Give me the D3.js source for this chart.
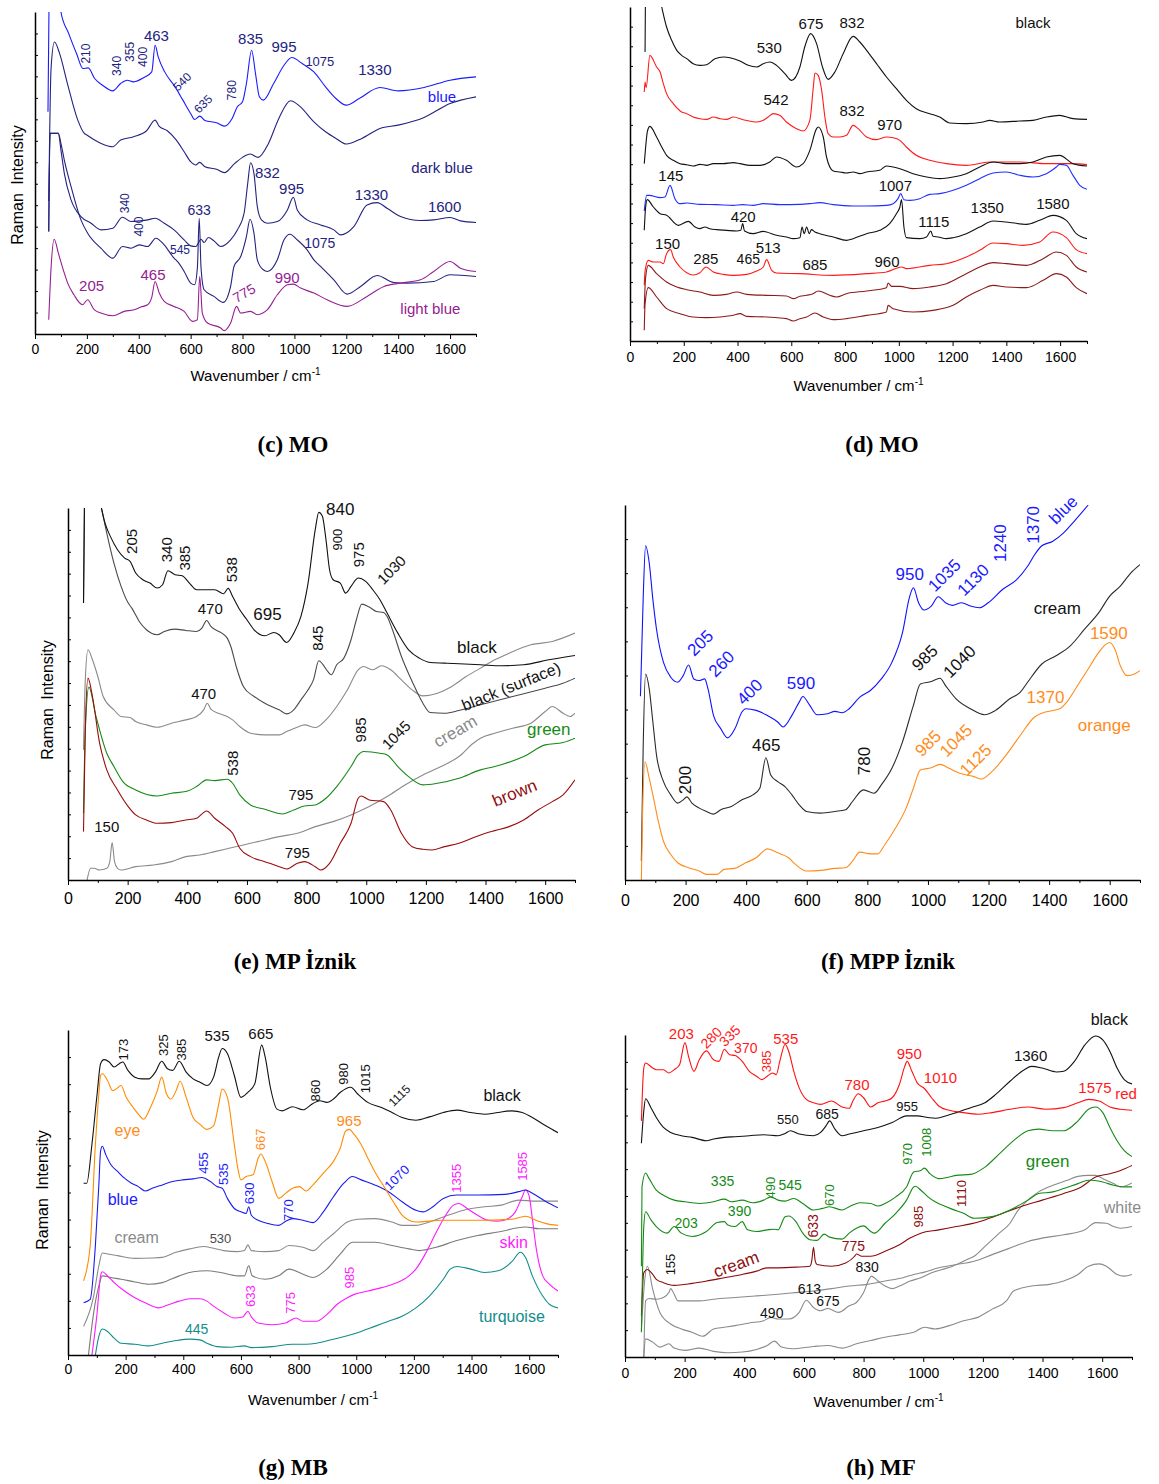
<!DOCTYPE html>
<html>
<head>
<meta charset="utf-8">
<title>Raman spectra panels</title>
<script src="https://d3js.org/d3.v7.min.js"></script>
<style>
  body { margin: 0; background: #fff; }
  svg text { font-family: "Liberation Sans", Arial, sans-serif; }
  .cap { font-family: "Liberation Serif", "DejaVu Serif", serif; font-weight: bold; font-size: 23px; }
</style>
</head>
<body>
<svg id="fig" width="1159" height="1484"></svg>
<script>
// ---- data: [wavenumber, intensity (arbitrary units)] ----
// (c) MO
const cBlue = [[50,668],[58,1300],[70,1400],[85,1080],[100,968],[130,903],[160,843],[185,798],[205,800],[230,768],[260,748],[300,731],[330,753],[355,763],[380,758],[420,771],[450,788],[463,868],[475,833],[500,788],[540,743],[570,703],[600,663],[615,645],[635,655],[655,642],[700,635],[730,625],[760,648],[780,683],[800,698],[815,753],[835,853],[850,783],[865,713],[880,703],[920,753],[960,808],[990,831],[1030,813],[1075,788],[1120,743],[1160,708],[1200,688],[1250,708],[1330,741],[1400,731],[1500,741],[1600,763],[1700,773]];
const cDarkBlue = [[53,400],[62,800],[75,878],[95,843],[125,753],[165,643],[190,603],[200,598],[230,583],[255,573],[300,563],[330,583],[380,593],[430,611],[463,643],[478,625],[510,611],[545,583],[575,548],[600,518],[620,508],[635,516],[655,503],[700,495],[730,485],[770,513],[800,531],[830,541],[860,531],[900,573],[940,648],[985,701],[1020,685],[1075,638],[1120,608],[1160,588],[1200,571],[1260,588],[1330,618],[1400,628],[1500,651],[1600,693],[1700,713]];
const cNavyA = [[53,308],[58,603],[90,603],[100,553],[113,483],[139,403],[177,353],[216,333],[254,313],[300,318],[337,351],[370,338],[402,340],[434,343],[463,348],[498,333],[536,313],[575,283],[600,265],[620,263],[640,285],[652,275],[668,290],[690,280],[716,263],[754,283],[780,313],[806,363],[820,453],[831,515],[844,483],[857,383],[873,343],[896,333],[934,338],[973,373],[996,411],[1011,373],[1049,343],[1101,328],[1152,313],[1178,298],[1229,323],[1280,388],[1319,395],[1357,378],[1409,353],[1486,341],[1537,343],[1600,350],[1640,340],[1700,335]];
const cNavyB = [[53,308],[58,603],[90,603],[100,573],[113,523],[139,443],[177,343],[203,303],[254,258],[300,228],[337,263],[370,258],[402,268],[434,263],[466,288],[498,268],[536,228],[549,218],[575,188],[600,153],[615,148],[626,200],[633,348],[640,200],[652,133],[690,113],[726,95],[754,143],[767,203],[793,233],[815,293],[829,345],[844,303],[857,223],[880,193],[896,188],[934,223],[960,283],[983,300],[1011,283],[1049,253],[1075,223],[1101,203],[1152,163],[1203,120],[1255,143],[1319,176],[1383,155],[1434,153],[1537,158],[1600,178],[1700,173]];
const cLightBlue = [[53,43],[62,200],[74,285],[90,243],[113,183],[126,153],[150,118],[183,88],[203,103],[228,73],[254,63],[300,55],[344,68],[382,73],[408,81],[434,88],[450,110],[463,158],[479,123],[498,98],[536,83],[575,68],[607,38],[626,43],[635,173],[645,63],[665,33],[716,18],[729,10],[754,33],[777,83],[793,63],[831,68],[857,58],[896,73],[934,118],[973,148],[996,150],[1024,138],[1075,123],[1126,103],[1203,83],[1280,113],[1345,143],[1409,153],[1486,163],[1537,188],[1600,218],[1640,198],[1700,188]];

// (d) MO
const dBlackA = [[56,867],[58,1100],[80,1150],[118,1002],[136,942],[155,902],[174,872],[192,857],[211,847],[235,832],[260,827],[285,829],[316,847],[347,852],[372,850],[409,840],[440,827],[471,822],[496,832],[520,837],[545,827],[576,802],[601,782],[632,822],[650,882],[672,922],[694,892],[716,822],[737,785],[762,807],[793,862],[830,914],[855,897],[880,872],[917,832],[954,792],[991,757],[1028,722],[1065,697],[1115,682],[1152,672],[1190,654],[1251,652],[1313,657],[1338,662],[1375,657],[1450,660],[1499,662],[1549,672],[1598,677],[1648,667],[1700,665]];
const dRedA = [[53,747],[56,777],[60,760],[74,857],[99,822],[112,807],[124,772],[136,742],[161,712],[192,687],[211,682],[235,672],[260,667],[285,665],[310,672],[335,667],[359,665],[384,672],[421,664],[471,657],[496,662],[514,672],[533,682],[557,677],[582,657],[619,637],[644,630],[669,662],[682,762],[688,804],[700,797],[713,752],[725,672],[737,622],[756,612],[781,612],[805,617],[830,647],[849,637],[880,612],[917,604],[954,612],[979,610],[1004,602],[1028,582],[1065,557],[1115,542],[1177,532],[1251,527],[1338,537],[1450,537],[1549,532],[1598,532],[1648,532],[1700,529]];
const dBlackB = [[53,532],[58,580],[65,630],[74,644],[99,612],[118,582],[136,557],[161,542],[186,532],[211,529],[235,525],[260,530],[285,527],[310,532],[347,532],[384,535],[409,532],[446,527],[483,527],[520,537],[545,552],[582,542],[619,522],[644,532],[669,572],[694,637],[700,642],[719,612],[731,552],[756,510],[781,507],[805,504],[830,507],[855,502],[880,507],[929,512],[954,525],[979,522],[1004,517],[1053,502],[1103,492],[1152,487],[1202,492],[1251,502],[1301,522],[1351,537],[1400,532],[1450,532],[1499,537],[1549,552],[1598,557],[1648,532],[1700,525]];
const dBlue = [[53,390],[62,437],[72,437],[112,430],[130,432],[149,467],[167,427],[186,412],[211,414],[260,410],[322,409],[384,407],[419,409],[458,407],[496,412],[558,409],[632,410],[669,412],[706,415],[756,409],[830,405],[880,405],[954,407],[979,412],[997,427],[1007,442],[1019,424],[1041,422],[1078,427],[1115,440],[1152,442],[1202,452],[1251,467],[1301,487],[1351,504],[1400,507],[1450,497],[1499,492],[1549,502],[1586,522],[1598,530],[1623,527],[1648,497],[1673,467],[1700,455]];
const dBlackC = [[53,332],[58,400],[64,424],[87,402],[112,382],[136,377],[180,347],[217,359],[242,342],[260,337],[279,342],[297,337],[322,334],[359,332],[397,330],[412,332],[419,352],[426,330],[458,322],[496,329],[508,327],[545,317],[582,312],[607,307],[632,310],[640,342],[648,322],[657,342],[667,322],[675,334],[688,327],[706,322],[756,312],[805,302],[830,307],[880,322],[929,332],[966,352],[991,382],[1004,402],[1010,424],[1019,342],[1028,310],[1078,307],[1103,312],[1119,330],[1127,314],[1146,312],[1177,307],[1202,310],[1251,322],[1301,342],[1351,360],[1400,357],[1475,350],[1524,362],[1573,377],[1623,362],[1660,322],[1700,307]];
const dRedB = [[53,167],[56,210],[68,242],[87,237],[112,237],[124,232],[136,262],[151,274],[161,252],[186,222],[211,205],[235,198],[260,205],[283,222],[310,207],[347,200],[384,197],[434,200],[471,210],[496,222],[508,244],[527,212],[545,204],[632,202],[756,197],[880,202],[954,207],[1010,222],[1028,217],[1115,227],[1177,232],[1251,252],[1301,272],[1351,294],[1400,292],[1462,287],[1524,297],[1573,327],[1623,310],[1660,274],[1700,262]];
const dBrownA = [[53,97],[58,190],[68,227],[99,202],[136,177],[174,162],[211,154],[260,147],[310,137],[359,140],[397,147],[434,140],[508,137],[582,135],[607,127],[632,134],[657,137],[681,142],[700,150],[743,137],[768,132],[805,142],[880,150],[954,160],[960,174],[973,164],[1004,164],[1053,157],[1115,162],[1177,172],[1251,202],[1301,222],[1351,235],[1400,232],[1475,227],[1537,247],[1586,267],[1623,257],[1660,222],[1700,207]];
const dBrownB = [[53,32],[56,110],[68,160],[99,132],[136,97],[186,82],[235,72],[285,70],[335,72],[384,77],[409,82],[434,74],[508,72],[582,67],[607,60],[632,67],[657,72],[688,84],[719,72],[756,64],[805,67],[880,77],[954,87],[960,107],[979,97],[1053,87],[1127,92],[1202,107],[1251,132],[1301,152],[1351,167],[1400,162],[1475,160],[1537,182],[1586,202],[1623,192],[1660,160],[1700,142]];

// (e) MP Iznik
const eBlack = [[52,830],[56,1200],[80,1250],[112,1115],[124,1070],[142,1030],[166,990],[190,965],[208,955],[227,920],[251,900],[275,890],[299,875],[317,885],[335,927],[359,915],[383,912],[407,890],[431,870],[455,870],[492,870],[522,858],[537,874],[552,850],[576,810],[600,780],[624,750],[660,732],[690,742],[708,735],[733,712],[757,740],[781,790],[805,890],[829,1050],[841,1102],[853,1090],[865,1020],[877,930],[889,900],[913,890],[931,860],[949,880],[967,902],[973,905],[998,895],[1022,870],[1046,840],[1070,800],[1106,740],[1142,690],[1178,665],[1214,652],[1263,650],[1311,648],[1383,645],[1455,642],[1528,645],[1612,660],[1700,673]];
const eSurface = [[52,830],[56,1200],[80,1250],[112,1115],[130,1040],[154,950],[178,880],[202,830],[214,815],[239,775],[263,750],[299,735],[323,745],[359,752],[395,748],[431,745],[449,755],[465,778],[479,760],[516,740],[534,725],[546,700],[564,640],[588,580],[624,550],[660,530],[708,510],[733,498],[757,510],[781,540],[805,570],[823,600],[841,657],[853,648],[871,625],[883,615],[901,645],[925,665],[949,720],[967,780],[985,827],[1010,818],[1034,805],[1058,802],[1070,790],[1088,750],[1118,670],[1154,595],[1190,530],[1214,502],[1263,500],[1311,508],[1383,525],[1455,542],[1528,558],[1600,575],[1660,590],[1700,605]];
const eCream = [[52,390],[58,600],[67,690],[82,660],[100,610],[118,550],[154,510],[178,490],[208,487],[227,475],[263,465],[299,458],[347,470],[395,480],[431,490],[455,510],[467,530],[479,512],[504,500],[528,492],[552,480],[576,460],[612,440],[660,435],[708,435],[733,445],[769,458],[793,465],[829,457],[865,480],[901,520],[937,570],[973,630],[991,640],[1022,630],[1051,642],[1082,630],[1118,600],[1154,570],[1190,552],[1239,560],[1287,580],[1335,610],[1383,635],[1431,660],[1479,680],[1552,705],[1624,715],[1700,740]];
const eGreen = [[52,200],[58,450],[70,578],[94,490],[130,380],[154,340],[184,295],[227,270],[299,252],[347,260],[395,265],[431,280],[465,300],[492,298],[534,302],[552,290],[576,255],[612,225],[660,212],[720,198],[757,210],[793,222],[829,225],[865,245],[901,280],[949,340],[973,375],[991,385],[1046,380],[1070,375],[1106,340],[1142,310],[1190,285],[1239,290],[1311,305],[1383,330],[1431,340],[1528,370],[1600,405],[1660,412],[1700,425]];
const eBrown = [[52,145],[58,450],[67,605],[82,550],[106,410],[130,330],[166,270],[202,220],[227,195],[263,180],[299,170],[347,172],[395,180],[431,185],[465,207],[492,185],[528,160],[552,140],[576,95],[612,70],[660,55],[708,40],[733,33],[769,50],[793,55],[829,40],[847,30],[877,50],[913,110],[949,170],[973,245],[983,252],[1010,240],[1058,235],[1082,210],[1118,140],[1154,100],[1190,92],[1220,90],[1263,100],[1311,110],[1383,135],[1431,148],[1479,160],[1528,180],[1576,210],[1624,235],[1660,255],[1700,300]];
const eGray = [[64,0],[76,35],[88,35],[106,30],[130,35],[140,55],[148,112],[156,55],[166,35],[178,30],[227,40],[287,45],[347,55],[395,70],[443,75],[492,85],[540,95],[588,105],[636,115],[708,130],[769,140],[829,160],[889,175],[949,195],[1010,220],[1070,250],[1130,285],[1190,315],[1251,340],[1311,370],[1359,410],[1383,425],[1431,440],[1491,455],[1552,470],[1600,505],[1624,520],[1660,500],[1684,490],[1700,500]];

// (f) MPP Iznik
const fBlue = [[51,555],[60,850],[68,1009],[80,957],[92,847],[104,757],[127,657],[151,612],[174,597],[192,617],[210,649],[227,607],[245,602],[263,607],[274,577],[292,497],[316,457],[339,429],[363,457],[386,507],[398,517],[433,512],[469,497],[504,477],[522,462],[551,497],[575,537],[587,554],[610,527],[634,499],[669,502],[693,509],[716,505],[740,517],[775,552],[810,572],[846,607],[881,657],[916,747],[940,857],[952,882],[969,837],[987,815],[1011,827],[1034,855],[1058,837],[1081,829],[1111,837],[1140,827],[1170,822],[1199,837],[1246,877],[1293,907],[1329,947],[1352,982],[1376,1009],[1411,1022],[1447,1047],[1482,1082],[1529,1132]];
const fCream = [[54,57],[60,400],[68,622],[80,577],[92,477],[104,377],[127,297],[151,257],[174,232],[192,242],[204,251],[221,232],[245,217],[269,207],[292,199],[316,212],[351,222],[386,242],[422,257],[445,277],[465,369],[481,317],[504,297],[528,282],[551,257],[575,227],[599,207],[646,202],[693,207],[728,212],[751,237],[787,272],[822,262],[846,287],[881,337],[916,417],[952,527],[975,592],[1011,599],[1040,609],[1058,587],[1093,547],[1140,517],[1187,499],[1223,512],[1270,547],[1305,567],[1329,597],[1376,652],[1423,677],[1470,707],[1517,757],[1564,807],[1600,857],[1635,887],[1670,927],[1700,952]];
const fOrange = [[54,0],[58,200],[66,357],[80,307],[92,257],[110,177],[127,117],[151,77],[174,52],[210,37],[245,27],[269,17],[304,17],[327,32],[363,35],[398,52],[433,67],[457,87],[469,94],[504,82],[540,67],[563,47],[599,27],[646,29],[693,35],[728,37],[751,57],[775,84],[810,79],[834,79],[858,107],[893,157],[928,217],[952,277],[975,332],[1011,339],[1040,349],[1070,337],[1093,327],[1117,319],[1152,312],[1176,305],[1211,327],[1258,377],[1305,437],[1352,492],[1388,507],[1435,517],[1458,537],[1494,587],[1529,637],[1564,687],[1588,712],[1600,717],[1617,697],[1635,647],[1658,617],[1682,622],[1700,632]];

// (g) MB
const gBlack = [[54,510],[65,510],[83,625],[101,775],[113,865],[125,877],[143,870],[160,855],[178,865],[190,870],[208,845],[232,825],[256,820],[280,820],[303,840],[325,872],[345,850],[363,845],[386,872],[410,840],[434,820],[458,810],[482,800],[505,825],[523,885],[535,910],[553,895],[577,830],[600,765],[624,780],[648,805],[672,920],[684,885],[702,795],[725,730],[743,725],[779,737],[815,728],[850,747],[874,755],[898,750],[921,760],[945,780],[981,795],[1005,775],[1040,750],[1088,735],[1124,720],[1159,705],[1207,697],[1254,707],[1302,720],[1349,727],[1397,720],[1445,715],[1492,720],[1540,725],[1576,720],[1611,705],[1659,680],[1700,660]];
const gEye = [[54,220],[77,325],[95,625],[107,775],[113,830],[119,835],[137,815],[155,785],[172,793],[184,800],[202,765],[226,735],[244,715],[262,700],[286,735],[310,785],[325,825],[342,775],[357,760],[375,785],[389,813],[410,765],[434,705],[458,685],[482,670],[505,680],[523,745],[535,790],[553,765],[577,625],[589,555],[600,520],[618,530],[642,535],[660,585],[669,597],[684,575],[708,515],[731,465],[755,480],[779,495],[803,500],[826,487],[850,505],[886,540],[921,575],[945,615],[963,665],[975,670],[993,655],[1017,625],[1040,585],[1064,545],[1100,495],[1136,445],[1159,415],[1183,400],[1207,395],[1302,400],[1421,400],[1540,403],[1587,412],[1623,400],[1659,390],[1700,385]];
const gBlue = [[54,155],[77,165],[95,325],[107,505],[113,605],[119,620],[131,595],[149,565],[172,545],[196,525],[220,510],[244,500],[268,487],[292,495],[327,505],[363,515],[398,520],[434,523],[464,527],[494,515],[517,500],[535,495],[553,465],[577,435],[600,425],[618,420],[627,440],[636,415],[660,400],[696,390],[731,385],[755,397],[779,405],[815,400],[850,393],[886,425],[921,470],[957,510],[987,530],[1017,520],[1064,505],[1112,485],[1159,455],[1207,430],[1231,425],[1266,440],[1302,465],[1349,475],[1421,475],[1516,477],[1564,485],[1587,490],[1611,480],[1659,455],[1700,437]];
const gCreamA = [[54,85],[89,175],[107,265],[119,303],[137,300],[172,295],[232,287],[292,288],[327,290],[375,305],[422,315],[470,322],[505,317],[540,310],[588,307],[612,310],[624,327],[636,310],[684,307],[731,310],[767,325],[815,320],[850,310],[886,335],[921,360],[969,395],[1005,403],[1064,405],[1124,395],[1159,385],[1207,385],[1254,395],[1302,410],[1373,430],[1445,440],[1504,445],[1564,460],[1623,457],[1700,457]];
const gCreamB = [[71,0],[89,125],[107,205],[119,235],[149,230],[184,225],[232,217],[280,210],[327,215],[386,235],[434,247],[482,250],[529,245],[589,235],[612,235],[627,265],[639,235],[684,225],[731,235],[767,255],[815,240],[850,230],[898,255],[945,300],[987,335],[1040,335],[1064,335],[1124,325],[1183,315],[1219,310],[1278,320],[1349,340],[1421,355],[1492,365],[1587,380],[1635,375],[1700,375]];
const gSkin = [[83,0],[101,125],[113,235],[119,247],[137,235],[160,215],[196,190],[232,170],[268,155],[315,140],[351,150],[386,160],[422,167],[458,167],[482,160],[505,145],[541,125],[577,110],[606,113],[624,130],[636,113],[660,95],[708,90],[755,95],[791,110],[815,100],[862,100],[898,120],[933,150],[969,170],[993,180],[1040,190],[1088,200],[1136,213],[1183,235],[1207,255],[1243,305],[1278,365],[1314,420],[1337,445],[1355,450],[1385,435],[1421,415],[1457,400],[1492,397],[1528,405],[1552,425],[1576,470],[1587,490],[1599,475],[1611,405],[1623,325],[1647,235],[1671,210],[1700,190]];
const gTurquoise = [[95,0],[107,55],[119,77],[137,70],[160,50],[184,35],[232,32],[280,27],[327,35],[375,43],[422,47],[458,45],[482,35],[517,25],[565,23],[612,27],[636,22],[708,25],[779,32],[826,32],[862,35],[921,47],[969,57],[1017,70],[1064,85],[1112,100],[1159,115],[1207,140],[1254,175],[1302,225],[1326,255],[1349,263],[1397,255],[1445,245],[1492,250],[1540,277],[1570,305],[1587,290],[1611,235],[1647,175],[1671,150],[1700,140]];

// (h) MF
const hRed = [[55,715],[63,875],[69,890],[93,875],[105,870],[129,870],[147,860],[165,870],[183,885],[201,952],[213,910],[231,865],[249,900],[273,927],[297,900],[315,895],[333,932],[351,915],[369,913],[393,895],[417,865],[441,850],[459,840],[477,850],[495,860],[507,855],[519,895],[537,947],[549,925],[566,865],[584,815],[608,780],[632,770],[656,765],[692,775],[728,757],[752,753],[764,775],[782,797],[800,785],[824,757],[848,770],[872,775],[896,785],[920,825],[938,880],[946,895],[962,865],[980,830],[1004,813],[1028,785],[1052,760],[1087,747],[1135,740],[1183,735],[1231,740],[1291,750],[1351,757],[1411,750],[1471,755],[1519,770],[1555,780],[1590,775],[1626,757],[1662,750],[1700,747]];
const hBlack = [[55,647],[63,745],[69,782],[87,755],[105,725],[129,695],[153,680],[189,670],[225,665],[273,655],[297,660],[333,665],[369,667],[417,670],[465,673],[513,670],[537,677],[555,685],[584,675],[632,670],[656,680],[674,700],[686,715],[704,690],[728,670],[752,675],[800,685],[848,695],[896,710],[944,730],[980,730],[1016,725],[1040,723],[1075,730],[1111,740],[1159,755],[1207,770],[1243,795],[1291,835],[1339,870],[1363,880],[1399,875],[1447,863],[1471,865],[1507,895],[1542,945],[1578,972],[1602,960],[1626,925],[1650,875],[1674,840],[1700,827]];
const hGreenA = [[55,275],[57,515],[69,557],[81,540],[105,505],[129,490],[165,475],[201,470],[249,465],[297,470],[333,478],[357,470],[393,475],[429,467],[465,475],[489,485],[513,475],[537,472],[566,480],[596,465],[632,445],[662,450],[686,455],[728,445],[752,455],[788,467],[824,465],[848,457],[872,465],[908,485],[944,515],[968,560],[992,565],[1004,572],[1022,555],[1052,540],[1087,545],[1111,550],[1159,553],[1207,575],[1255,615],[1303,655],[1351,685],[1387,690],[1435,685],[1471,685],[1519,715],[1554,750],[1578,757],[1602,740],[1626,695],[1650,655],[1674,625],[1700,607]];
const hGreenB = [[55,75],[63,395],[69,440],[87,415],[105,395],[141,375],[165,395],[189,375],[225,365],[273,380],[309,407],[333,410],[345,400],[369,395],[393,410],[411,385],[441,380],[477,385],[501,387],[513,385],[537,425],[549,427],[573,410],[596,375],[620,355],[644,353],[668,372],[686,363],[728,357],[752,375],[776,390],[800,397],[824,380],[836,375],[872,405],[908,435],[944,475],[968,515],[974,517],[992,505],[1016,485],[1040,470],[1063,460],[1099,447],[1135,435],[1171,420],[1231,425],[1291,445],[1351,475],[1387,495],[1435,500],[1471,510],[1519,525],[1554,535],[1566,535],[1602,530],[1638,520],[1674,515],[1700,515]];
const hCream = [[55,125],[63,255],[75,265],[93,250],[105,235],[129,225],[165,217],[225,223],[273,230],[333,240],[393,250],[441,260],[477,270],[513,270],[573,272],[620,275],[626,290],[632,332],[638,290],[644,280],[692,275],[740,285],[770,305],[776,312],[794,305],[824,305],[872,320],[920,340],[956,360],[992,375],[1052,385],[1111,395],[1159,403],[1207,415],[1267,435],[1327,455],[1399,475],[1471,495],[1530,515],[1578,545],[1626,555],[1662,565],[1700,580]];
const hWhiteA = [[63,0],[69,170],[81,177],[105,175],[129,180],[147,195],[153,207],[165,190],[177,170],[201,170],[249,170],[297,175],[369,180],[441,185],[513,190],[573,195],[632,200],[692,207],[752,215],[812,220],[872,230],[932,240],[968,250],[1004,257],[1052,270],[1111,280],[1171,290],[1231,310],[1291,330],[1351,350],[1399,360],[1471,370],[1542,385],[1578,407],[1614,405],[1638,395],[1662,390],[1700,395]];
const hWhiteB = [[55,80],[63,200],[75,275],[93,205],[117,135],[153,100],[189,85],[225,75],[261,63],[297,85],[333,90],[369,95],[417,103],[465,110],[489,120],[513,115],[549,115],[584,135],[608,172],[632,150],[656,140],[680,147],[716,135],[752,155],[776,165],[800,195],[818,235],[826,245],[848,230],[872,215],[896,207],[920,215],[956,230],[992,240],[1028,255],[1063,265],[1099,275],[1147,295],[1171,305],[1207,335],[1255,375],[1291,405],[1315,440],[1351,475],[1387,500],[1435,520],[1483,535],[1519,547],[1554,550],[1578,550],[1602,540],[1638,525],[1662,515],[1700,527]];
const hWhiteC = [[63,0],[69,55],[93,45],[117,30],[147,40],[165,27],[201,20],[249,27],[297,17],[345,13],[393,15],[441,23],[477,35],[501,48],[525,30],[561,25],[632,32],[680,35],[728,27],[776,40],[824,50],[872,60],[920,67],[968,75],[1004,90],[1040,85],[1087,95],[1135,110],[1183,120],[1231,145],[1279,170],[1303,200],[1363,215],[1423,220],[1471,230],[1519,250],[1554,275],[1590,282],[1614,275],[1650,250],[1674,245],[1700,250]];

// ---- annotations: [text, wavenumber, intensity, angle, colour, size] ----
const NAVY = '#23237f', BLUE = '#1a1aff', PURPLE = '#942093', RED = '#ff1a1a', DRED = '#8e1010',
      GREEN = '#168a16', GRAY = '#8a8a8a', DGRAY = '#4a4a4a', ORANGE = '#ff8c1a', MAGENTA = '#ff1aff',
      TEAL = '#128c8c', BLK = '#111';

const cNotes = [["210",196,843,-90,NAVY,12],["340",316,806,-90,NAVY,12],["355",367,848,-90,NAVY,12],["400",418,833,-90,NAVY,12],
  ["463",468,898,0,NAVY,15],["540",568,758,-45,NAVY,12],["635",649,691,-45,NAVY,12],["780",761,733,-90,NAVY,12],
  ["835",831,888,0,NAVY,15],["995",960,863,0,NAVY,15],["1075",1098,820,0,NAVY,13],["1330",1310,795,0,NAVY,15],
  ["blue",1569,713,0,BLUE,15],["dark blue",1569,501,0,NAVY,15],["832",896,485,0,NAVY,15],["995",989,437,0,NAVY,15],
  ["1330",1297,420,0,NAVY,15],["1600",1579,383,0,NAVY,15],["340",348,393,-90,NAVY,12],["400",399,323,-90,NAVY,12],
  ["633",633,373,0,NAVY,14],["545",559,253,0,NAVY,12],["1075",1098,273,0,NAVY,14],["205",218,146,0,PURPLE,15],
  ["465",455,179,0,PURPLE,15],["775",806,123,-30,PURPLE,14],["990",972,171,0,PURPLE,15],["light blue",1524,78,0,PURPLE,15]];
const dNotes = [["black",1499,957,0,BLK,15],["530",518,882,0,BLK,15],["675",673,954,0,BLK,15],["832",826,957,0,BLK,15],
  ["542",543,724,0,BLK,15],["832",826,692,0,BLK,15],["970",966,650,0,BLK,15],["145",152,497,0,BLK,15],
  ["1007",987,467,0,BLK,15],["420",421,374,0,BLK,15],["1115",1130,360,0,BLK,15],["1350",1329,400,0,BLK,15],
  ["1580",1573,414,0,BLK,15],["150",140,294,0,BLK,15],["285",282,247,0,BLK,15],["465",440,247,0,BLK,14],
  ["513",514,282,0,BLK,15],["685",688,230,0,BLK,15],["960",956,240,0,BLK,15]];
const eNotes = [["205",214,1015,-90,BLK,15],["340",329,990,-90,BLK,15],["385",391,965,-90,BLK,15],["538",549,930,-90,BLK,15],
  ["840",913,1110,0,BLK,17],["900",904,1020,-90,BLK,13],["975",973,975,-90,BLK,15],["1030",1084,930,-45,BLK,15],
  ["470",477,815,0,BLK,15],["695",669,795,0,BLK,17],["845",837,725,-90,BLK,15],["black",1371,698,0,BLK,17],
  ["black (surface)",1486,580,-22,BLK,16],["470",455,560,0,BLK,15],["cream",1299,445,-30,GRAY,17],["green",1612,452,0,GREEN,17],
  ["985",980,450,-90,BLK,15],["1045",1100,435,-45,BLK,15],["538",552,350,-90,BLK,15],["795",781,255,0,BLK,15],
  ["brown",1498,260,-22,DRED,17],["795",769,82,0,BLK,15],["150",130,160,0,BLK,15]];
const fNotes = [["205",249,715,-45,BLUE,17],["260",319,652,-45,BLUE,17],["400",412,567,-45,BLUE,17],["590",581,592,0,BLUE,17],
  ["950",940,922,0,BLUE,17],["1035",1055,919,-45,BLUE,17],["1130",1150,905,-45,BLUE,17],["1240",1238,1017,-90,BLUE,17],
  ["1370",1350,1072,-90,BLUE,17],["blue",1447,1117,-45,BLUE,17],["cream",1427,819,0,BLK,17],["985",990,670,-45,BLK,17],
  ["1040",1105,659,-45,BLK,17],["200",201,302,-90,BLK,17],["465",466,405,0,BLK,17],["780",790,359,-90,BLK,17],
  ["1590",1597,745,0,ORANGE,17],["1370",1388,550,0,ORANGE,17],["orange",1582,467,0,ORANGE,17],["985",1001,412,-45,ORANGE,17],
  ["1045",1093,420,-45,ORANGE,17],["1125",1158,362,-45,ORANGE,17]];
const gNotes = [["173",194,907,-90,BLK,13],["325",331,920,-90,BLK,13],["385",395,907,-90,BLK,13],["535",517,950,0,BLK,15],
  ["665",669,955,0,BLK,15],["860",860,785,-90,BLK,13],["980",957,835,-90,BLK,13],["1015",1032,820,-90,BLK,13],
  ["1115",1150,770,-45,BLK,12],["black",1506,770,0,BLK,16],["eye",206,668,0,ORANGE,16],["965",975,695,0,ORANGE,15],
  ["667",669,640,-90,ORANGE,13],["455",470,570,-90,BLUE,13],["535",541,537,-90,BLUE,13],["630",630,480,-90,BLUE,13],
  ["770",765,430,-90,BLUE,13],["1070",1141,527,-45,BLUE,13],["blue",190,462,0,BLUE,16],["1355",1349,525,-90,MAGENTA,13],
  ["1585",1578,560,-90,MAGENTA,13],["cream",238,350,0,GRAY,16],["530",529,345,0,DGRAY,13],["skin",1546,335,0,MAGENTA,16],
  ["985",975,230,-90,MAGENTA,13],["633",634,175,-90,MAGENTA,13],["775",773,155,-90,MAGENTA,13],
  ["turquoise",1540,115,0,TEAL,16],["445",446,77,0,TEAL,14]];
const hNotes = [["black",1624,1023,0,BLK,16],["1360",1360,913,0,BLK,15],["550",546,718,0,BLK,13],["685",678,735,0,BLK,14],
  ["955",946,760,0,BLK,13],["203",189,980,0,RED,15],["280",289,967,-45,RED,14],["335",351,973,-45,RED,14],
  ["370",405,937,0,RED,14],["385",474,895,-90,RED,13],["535",539,965,0,RED,15],["780",778,825,0,RED,15],
  ["950",953,920,0,RED,15],["1010",1058,845,0,RED,15],["1575",1576,815,0,RED,15],["red",1680,797,0,RED,15],
  ["335",327,532,0,GREEN,14],["490",489,513,-90,GREEN,13],["545",554,520,0,GREEN,14],["670",686,490,-90,GREEN,13],
  ["970",947,615,-90,GREEN,13],["1008",1012,650,-90,GREEN,13],["green",1417,592,0,GREEN,17],["203",205,407,0,GREEN,14],
  ["390",384,443,0,GREEN,14],["633",630,397,-90,DRED,14],["985",983,425,-90,DRED,13],["1110",1129,495,-90,DRED,13],
  ["white",1668,452,0,GRAY,16],["775",766,335,0,DRED,14],["cream",373,280,-20,DRED,17],["155",151,280,-90,BLK,13],
  ["830",812,273,0,BLK,14],["613",618,207,0,BLK,14],["675",680,170,0,BLK,14],["490",492,132,0,BLK,14]];

const majorTicks = [0, 200, 400, 600, 800, 1000, 1200, 1400, 1600];
const minorTicks = [100, 300, 500, 700, 900, 1100, 1300, 1500, 1700];

// ---- drawing ----
const svg = d3.select('#fig');
svg.append('rect').attr('width', 1159).attr('height', 1484).attr('fill', '#fff');

function drawPanel(p, series, notes) {
  const x = d3.scaleLinear().domain([0, 1700]).range([p.left, p.right]);
  const y = d3.scaleLinear().domain([0, p.ymax]).range([p.bottom, p.top]);
  const g = svg.append('g');

  g.append('clipPath').attr('id', 'clip-' + p.id)
    .append('rect')
    .attr('x', p.left).attr('y', p.top)
    .attr('width', p.right - p.left).attr('height', p.bottom - p.top);

  const line = d3.line()
    .x(d => x(d[0]))
    .y(d => y(d[1]))
    .curve(d3.curveMonotoneX);

  const lines = g.append('g').attr('clip-path', 'url(#clip-' + p.id + ')');
  series.forEach(s => {
    lines.append('path')
      .datum(s.data)
      .attr('d', line)
      .attr('fill', 'none')
      .attr('stroke', s.color)
      .attr('stroke-width', 1.1);
  });

  // x axis
  const ax = g.append('g')
    .attr('transform', 'translate(0,' + p.bottom + ')')
    .call(d3.axisBottom(x).tickValues(majorTicks).tickFormat(d3.format('d'))
      .tickSize(5).tickSizeOuter(0).tickPadding(p.pad));
  ax.select('.domain').attr('stroke', '#000').attr('stroke-width', 1.5);
  ax.selectAll('.tick line').attr('stroke', '#000');
  ax.selectAll('text').attr('font-size', p.tick).attr('font-family', '"Liberation Sans", Arial, sans-serif').attr('fill', '#000');
  const mx = g.append('g')
    .attr('transform', 'translate(0,' + p.bottom + ')')
    .call(d3.axisBottom(x).tickValues(minorTicks).tickSize(3).tickFormat(''));
  mx.select('.domain').remove();

  // y axis (no labels, small inside ticks)
  const yt = d3.range(1, p.yticks).map(i => i * p.ymax / p.yticks);
  const ay = g.append('g')
    .attr('transform', 'translate(' + p.left + ',0)')
    .call(d3.axisRight(y).tickValues(yt).tickSize(3).tickSizeOuter(0).tickFormat(''));
  ay.select('.domain').attr('stroke', '#000').attr('stroke-width', 1.5);

  if (p.xTitle) {
    const t = g.append('text')
      .attr('x', (p.left + p.right) / 2).attr('y', p.xTitle)
      .attr('text-anchor', 'middle').attr('font-size', 15);
    t.append('tspan').text('Wavenumber / cm');
    t.append('tspan').attr('dy', -6).attr('font-size', 10).text('-1');
  }
  if (p.yTitle) {
    g.append('text')
      .attr('transform', 'translate(' + p.yTitle[0] + ',' + p.yTitle[1] + ') rotate(-90)')
      .attr('text-anchor', 'middle').attr('dominant-baseline', 'central')
      .attr('font-size', 16).attr('word-spacing', 4)
      .text('Raman Intensity');
  }

  notes.forEach(n => {
    g.append('text')
      .attr('transform', 'translate(' + x(n[1]) + ',' + y(n[2]) + ') rotate(' + n[3] + ')')
      .attr('text-anchor', 'middle')
      .attr('dominant-baseline', 'central')
      .attr('font-size', n[5])
      .attr('fill', n[4])
      .text(n[0]);
  });

  svg.append('text').attr('class', 'cap')
    .attr('x', p.capX).attr('y', p.capY)
    .attr('text-anchor', 'middle')
    .text(p.caption);
}

drawPanel({id: 'c', left: 35, right: 476, bottom: 334, top: 12, ymax: 968, yticks: 15, pad: 5, tick: 14,
    xTitle: 381, yTitle: [17, 185], caption: '(c) MO', capX: 293, capY: 452},
  [{data: cBlue, color: BLUE}, {data: cDarkBlue, color: NAVY}, {data: cNavyA, color: NAVY},
   {data: cNavyB, color: NAVY}, {data: cLightBlue, color: PURPLE}], cNotes);

drawPanel({id: 'd', left: 630, right: 1087, bottom: 341, top: 7, ymax: 1002, yticks: 17, pad: 6, tick: 14,
    xTitle: 391, caption: '(d) MO', capX: 882, capY: 452},
  [{data: dBlackA, color: BLK}, {data: dRedA, color: RED}, {data: dBlackB, color: BLK}, {data: dBlue, color: '#1f2fff'},
   {data: dBlackC, color: BLK}, {data: dRedB, color: RED}, {data: dBrownA, color: '#8b1a1a'}, {data: dBrownB, color: '#8b1a1a'}], dNotes);

drawPanel({id: 'e', left: 68, right: 575, bottom: 880, top: 508, ymax: 1115, yticks: 17, pad: 8, tick: 16,
    yTitle: [47, 700], caption: '(e) MP İznik', capX: 295, capY: 969},
  [{data: eGray, color: GRAY}, {data: eCream, color: GRAY}, {data: eSurface, color: DGRAY},
   {data: eBlack, color: BLK}, {data: eGreen, color: GREEN}, {data: eBrown, color: '#9b0c0c'}], eNotes);

drawPanel({id: 'f', left: 625, right: 1140, bottom: 880, top: 505, ymax: 1132, yticks: 11, pad: 10, tick: 16,
    caption: '(f) MPP İznik', capX: 888, capY: 969},
  [{data: fBlue, color: '#1111ff'}, {data: fCream, color: '#2a2a2a'}, {data: fOrange, color: ORANGE}], fNotes);

drawPanel({id: 'g', left: 68, right: 558, bottom: 1355, top: 1030, ymax: 965, yticks: 12, pad: 4, tick: 14,
    xTitle: 1405, yTitle: [42, 1190], caption: '(g) MB', capX: 293, capY: 1475},
  [{data: gCreamA, color: GRAY}, {data: gCreamB, color: '#7a7a7a'}, {data: gTurquoise, color: TEAL},
   {data: gSkin, color: MAGENTA}, {data: gBlue, color: '#1a1aee'}, {data: gEye, color: '#ff8c00'}, {data: gBlack, color: BLK}], gNotes);

drawPanel({id: 'h', left: 625, right: 1132, bottom: 1357, top: 1035, ymax: 975, yticks: 12, pad: 6, tick: 14,
    xTitle: 1407, caption: '(h) MF', capX: 881, capY: 1475},
  [{data: hWhiteA, color: GRAY}, {data: hWhiteB, color: GRAY}, {data: hWhiteC, color: GRAY},
   {data: hCream, color: '#8b0a0a'}, {data: hGreenB, color: GREEN}, {data: hGreenA, color: GREEN},
   {data: hBlack, color: BLK}, {data: hRed, color: '#ff1010'}], hNotes);
</script>
</body>
</html>
